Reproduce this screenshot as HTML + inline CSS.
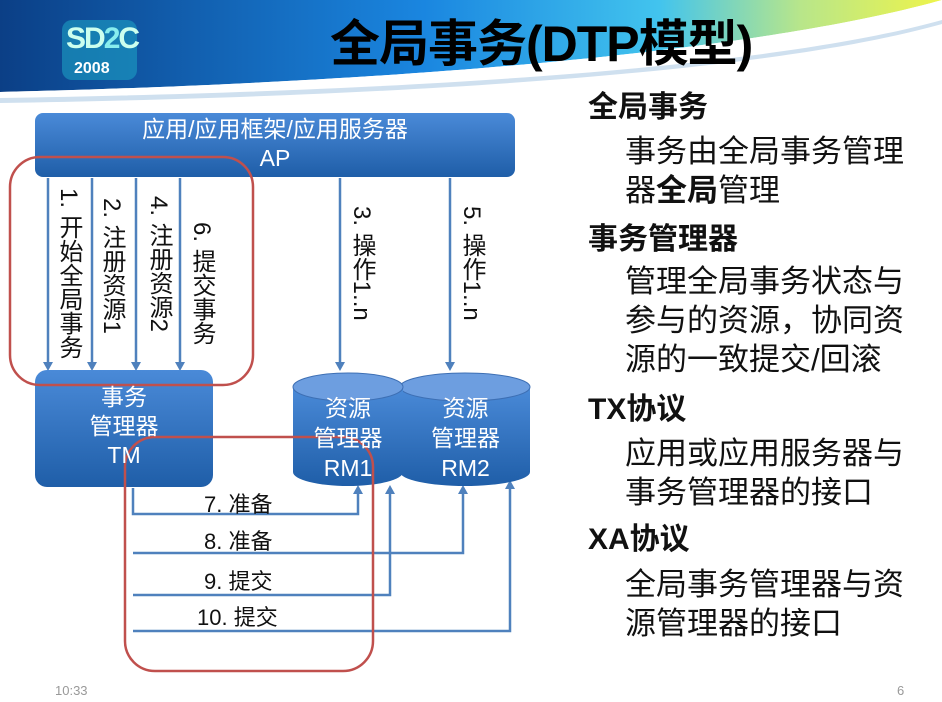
<!DOCTYPE html>
<html><head><meta charset="utf-8"><style>
body{margin:0;width:942px;height:702px;overflow:hidden;background:#fff;font-family:"Liberation Sans","Noto Sans CJK SC",sans-serif;position:relative}
.v{position:absolute;writing-mode:vertical-rl;font-size:24px;color:#111;line-height:1;white-space:nowrap}
.r{position:absolute;left:590px;font-size:30px;color:#111;white-space:nowrap}
.r b{font-weight:bold}
.h{font-weight:bold;left:588px;font-size:30px}
.s{left:625px;font-size:31px}
.l{position:absolute;font-size:22px;color:#111;white-space:nowrap}
</style></head><body>
<svg width="942" height="702" style="position:absolute;left:0;top:0">
<defs>
<linearGradient id="hd" x1="0" x2="1" y1="0" y2="0">
<stop offset="0" stop-color="#0b3f86"/><stop offset="0.45" stop-color="#1a86e0"/><stop offset="0.7" stop-color="#42c4ee"/><stop offset="0.85" stop-color="#b8e68a"/><stop offset="1" stop-color="#eef44a"/></linearGradient>
<linearGradient id="bx" x1="0" x2="0" y1="0" y2="1"><stop offset="0" stop-color="#4a8ad8"/><stop offset="1" stop-color="#1f5ea8"/></linearGradient>
</defs>
<path d="M0,0 H942 V0 C800,40 500,80 0,92 Z" fill="url(#hd)"/>
<path d="M0,92 C500,80 800,40 942,0 V20 C800,60 500,90 0,98Z" fill="#fff"/>
<path d="M0,98 C500,90 800,60 942,20 V24 C800,64 500,95 0,103Z" fill="#cfe0ef"/>
<rect x="62" y="20" width="75" height="60" rx="10" fill="#1d9ec3" opacity="0.6"/>
<rect x="35" y="113" width="480" height="64" rx="8" fill="url(#bx)"/>
<g stroke="#4f81bd" stroke-width="2.5" fill="none">
<line x1="48" y1="178" x2="48" y2="366"/><line x1="92" y1="178" x2="92" y2="366"/>
<line x1="136" y1="178" x2="136" y2="366"/><line x1="180" y1="178" x2="180" y2="366"/>
<line x1="340" y1="178" x2="340" y2="366"/><line x1="450" y1="178" x2="450" y2="366"/>
<polyline points="133,488 133,514 358,514 358,492"/>
<polyline points="133,553 463,553 463,492"/>
<polyline points="133,595 390,595 390,492"/>
<polyline points="133,631 510,631 510,487"/>
</g>
<g fill="#4f81bd">
<path d="M43,362 h10 l-5,9z"/><path d="M87,362 h10 l-5,9z"/><path d="M131,362 h10 l-5,9z"/><path d="M175,362 h10 l-5,9z"/><path d="M335,362 h10 l-5,9z"/><path d="M445,362 h10 l-5,9z"/>
<path d="M353,494 h10 l-5,-9z"/><path d="M458,494 h10 l-5,-9z"/><path d="M385,494 h10 l-5,-9z"/><path d="M505,489 h10 l-5,-9z"/>
</g>
<rect x="35" y="370" width="178" height="117" rx="12" fill="url(#bx)"/>
<path d="M400,387 v85 a65,14 0 0 0 130,0 v-85z" fill="url(#bx)"/>
<ellipse cx="465" cy="387" rx="65" ry="14" fill="#6d9ee0" stroke="#3d6fb4"/>
<path d="M293,387 v85 a55,14 0 0 0 110,0 v-85z" fill="url(#bx)"/>
<ellipse cx="348" cy="387" rx="55" ry="14" fill="#6d9ee0" stroke="#3d6fb4"/>
<rect x="10" y="157" width="243" height="228" rx="30" fill="none" stroke="#c0504d" stroke-width="2.5"/>
<rect x="125" y="437" width="248" height="234" rx="30" fill="none" stroke="#c0504d" stroke-width="2.5"/>
</svg>
<div style="position:absolute;left:66px;top:22px;font:bold 30px 'Liberation Sans';color:#cfe;letter-spacing:-2px">SD<span style="color:#8ee">2</span>C</div>
<div style="position:absolute;left:74px;top:60px;font:bold 16px 'Liberation Sans';color:#fff">2008</div>
<div style="position:absolute;left:330px;top:4px;font-size:50px;font-weight:bold;color:#000;letter-spacing:-1px;font-family:'Liberation Sans','Noto Sans CJK SC',sans-serif">全局事务(DTP模型)</div>
<div style="position:absolute;left:35px;width:480px;top:115px;text-align:center;color:#fff;font-size:23px;line-height:29px">应用/应用框架/应用服务器<br>AP</div>
<div style="position:absolute;left:35px;width:178px;top:383px;text-align:center;color:#fff;font-size:23px;line-height:29px">事务<br>管理器<br>TM</div>
<div style="position:absolute;left:293px;width:110px;top:393px;text-align:center;color:#fff;font-size:23px;line-height:30px">资源<br>管理器<br>RM1</div>
<div style="position:absolute;left:408px;width:115px;top:393px;text-align:center;color:#fff;font-size:23px;line-height:30px">资源<br>管理器<br>RM2</div>
<div class="v" style="left:56px;top:188px">1. 开始全局事务</div>
<div class="v" style="left:99px;top:198px">2. 注册资源1</div>
<div class="v" style="left:146px;top:196px">4. 注册资源2</div>
<div class="v" style="left:189px;top:222px">6. 提交事务</div>
<div class="v" style="left:349px;top:206px">3. 操作1..n</div>
<div class="v" style="left:459px;top:206px">5. 操作1..n</div>
<div class="l" style="left:204px;top:487px">7. 准备</div>
<div class="l" style="left:204px;top:524px">8. 准备</div>
<div class="l" style="left:204px;top:564px">9. 提交</div>
<div class="l" style="left:197px;top:600px">10. 提交</div>
<div class="r h" style="top:82px">全局事务</div>
<div class="r s" style="top:126px">事务由全局事务管理</div>
<div class="r s" style="top:165px">器<b>全局</b>管理</div>
<div class="r h" style="top:214px">事务管理器</div>
<div class="r s" style="top:256px">管理全局事务状态与</div>
<div class="r s" style="top:295px">参与的资源，协同资</div>
<div class="r s" style="top:334px">源的一致提交/回滚</div>
<div class="r h" style="top:384px">TX协议</div>
<div class="r s" style="top:428px">应用或应用服务器与</div>
<div class="r s" style="top:467px">事务管理器的接口</div>
<div class="r h" style="top:514px">XA协议</div>
<div class="r s" style="top:559px">全局事务管理器与资</div>
<div class="r s" style="top:598px">源管理器的接口</div>
<div style="position:absolute;left:55px;top:683px;font-size:13px;color:#999">10:33</div>
<div style="position:absolute;left:897px;top:683px;font-size:13px;color:#999">6</div>
</body></html>
